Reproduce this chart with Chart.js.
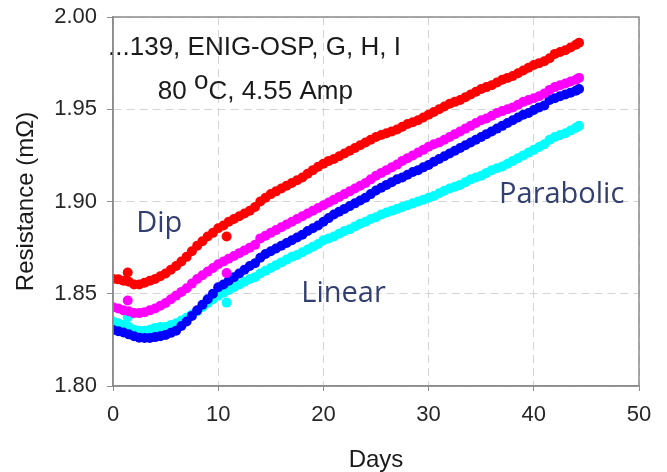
<!DOCTYPE html>
<html>
<head>
<meta charset="utf-8">
<script src="https://cdn.jsdelivr.net/npm/chart.js@4.4.1/dist/chart.umd.min.js"></script>
<style>
  html, body { margin: 0; padding: 0; background: #ffffff; }
  #wrap { width: 667px; height: 472px; position: relative; }
</style>
</head>
<body>
<div id="wrap"><canvas id="c"></canvas></div>
<script>
// Sampling days (common to the four samples)
const days = [
  0, 0.5, 1, 1.5, 2, 2.5, 3, 3.5, 4, 4.5, 5, 5.5, 6, 6.5, 7, 7.5, 8, 8.5, 9, 9.5,
  10, 10.5, 11, 11.5, 12, 12.5, 13, 13.5, 14, 14.5, 15, 15.5, 16, 16.5, 17, 17.5, 18, 18.5, 19, 19.5,
  20, 20.5, 21, 21.5, 22, 22.5, 23, 23.5, 24, 24.5, 25, 25.5, 26, 26.5, 27, 27.5, 28, 28.5, 29, 29.5,
  30, 30.5, 31, 31.5, 32, 32.5, 33, 33.5, 34, 34.5, 35, 35.5, 36, 36.5, 37, 37.5, 38, 38.5, 39, 39.5,
  40, 40.5, 41, 41.5, 42, 42.5, 43, 43.5, 44, 44.3
];

// Resistance (mOhm) per sample
const redValues = [
  1.8580, 1.8578, 1.8570, 1.8565, 1.8550, 1.8550, 1.8560, 1.8570, 1.8580, 1.8595,
  1.8610, 1.8630, 1.8650, 1.8675, 1.8700, 1.8730, 1.8760, 1.8785, 1.8810, 1.8830,
  1.8855, 1.8870, 1.8890, 1.8905, 1.8920, 1.8935, 1.8950, 1.8970, 1.9000, 1.9020,
  1.9040, 1.9055, 1.9070, 1.9085, 1.9100, 1.9115, 1.9130, 1.9150, 1.9170, 1.9188,
  1.9205, 1.9220, 1.9230, 1.9245, 1.9260, 1.9275, 1.9290, 1.9305, 1.9320, 1.9335,
  1.9350, 1.9360, 1.9370, 1.9380, 1.9390, 1.9405, 1.9420, 1.9430, 1.9440, 1.9455,
  1.9470, 1.9485, 1.9500, 1.9515, 1.9530, 1.9540, 1.9550, 1.9565, 1.9580, 1.9595,
  1.9610, 1.9620, 1.9630, 1.9645, 1.9660, 1.9670, 1.9680, 1.9695, 1.9710, 1.9725,
  1.9740, 1.9750, 1.9760, 1.9776, 1.9800, 1.9810, 1.9820, 1.9835, 1.9850, 1.9860
];
const magentaValues = [
  1.8427, 1.8420, 1.8410, 1.8405, 1.8395, 1.8395, 1.8400, 1.8410, 1.8420, 1.8435,
  1.8450, 1.8470, 1.8490, 1.8510, 1.8530, 1.8555, 1.8580, 1.8600, 1.8620, 1.8640,
  1.8660, 1.8675, 1.8690, 1.8705, 1.8720, 1.8735, 1.8750, 1.8765, 1.8800, 1.8815,
  1.8830, 1.8845, 1.8860, 1.8875, 1.8890, 1.8905, 1.8920, 1.8935, 1.8950, 1.8965,
  1.8980, 1.8995, 1.9010, 1.9025, 1.9040, 1.9055, 1.9070, 1.9085, 1.9100, 1.9120,
  1.9140, 1.9155, 1.9170, 1.9185, 1.9200, 1.9220, 1.9235, 1.9250, 1.9265, 1.9280,
  1.9297, 1.9310, 1.9320, 1.9335, 1.9350, 1.9365, 1.9380, 1.9395, 1.9410, 1.9425,
  1.9440, 1.9450, 1.9465, 1.9480, 1.9490, 1.9500, 1.9510, 1.9525, 1.9540, 1.9550,
  1.9560, 1.9570, 1.9585, 1.9605, 1.9620, 1.9630, 1.9640, 1.9650, 1.9660, 1.9670
];
const blueValues = [
  1.8304, 1.8297, 1.8290, 1.8280, 1.8270, 1.8262, 1.8260, 1.8260, 1.8265, 1.8270,
  1.8277, 1.8288, 1.8300, 1.8325, 1.8350, 1.8380, 1.8410, 1.8440, 1.8470, 1.8500,
  1.8535, 1.8550, 1.8570, 1.8590, 1.8610, 1.8630, 1.8650, 1.8665, 1.8695, 1.8715,
  1.8730, 1.8745, 1.8760, 1.8775, 1.8790, 1.8805, 1.8820, 1.8840, 1.8855, 1.8870,
  1.8890, 1.8910, 1.8930, 1.8945, 1.8960, 1.8975, 1.8990, 1.9005, 1.9020, 1.9040,
  1.9060, 1.9075, 1.9090, 1.9105, 1.9120, 1.9130, 1.9145, 1.9160, 1.9170, 1.9185,
  1.9198, 1.9215, 1.9230, 1.9245, 1.9260, 1.9275, 1.9290, 1.9305, 1.9320, 1.9335,
  1.9350, 1.9365, 1.9380, 1.9395, 1.9410, 1.9425, 1.9440, 1.9455, 1.9470, 1.9480,
  1.9496, 1.9510, 1.9520, 1.9550, 1.9560, 1.9570, 1.9580, 1.9590, 1.9600, 1.9610
];
const cyanValues = [
  1.8350, 1.8340, 1.8330, 1.8320, 1.8305, 1.8300, 1.8300, 1.8305, 1.8315, 1.8320,
  1.8320, 1.8330, 1.8340, 1.8355, 1.8370, 1.8388, 1.8405, 1.8428, 1.8450, 1.8470,
  1.8490, 1.8505, 1.8520, 1.8535, 1.8550, 1.8565, 1.8580, 1.8590, 1.8610, 1.8625,
  1.8640, 1.8655, 1.8670, 1.8685, 1.8700, 1.8710, 1.8725, 1.8740, 1.8755, 1.8770,
  1.8790, 1.8800, 1.8810, 1.8825, 1.8840, 1.8850, 1.8865, 1.8880, 1.8890, 1.8905,
  1.8915, 1.8930, 1.8940, 1.8950, 1.8960, 1.8970, 1.8980, 1.8990, 1.9000, 1.9010,
  1.9020, 1.9030, 1.9045, 1.9058, 1.9070, 1.9080, 1.9090, 1.9105, 1.9120, 1.9130,
  1.9140, 1.9155, 1.9170, 1.9180, 1.9190, 1.9205, 1.9220, 1.9235, 1.9250, 1.9265,
  1.9280, 1.9295, 1.9310, 1.9335, 1.9350, 1.9360, 1.9370, 1.9385, 1.9400, 1.9410
];

// Isolated readings that sit off the main trend
const spikeDays = [1.4, 10.8];
const redSpikes = [1.8615, 1.8810];
const magentaSpikes = [1.8463, 1.8612];
const cyanSpikes = [1.8373, 1.8452];

// Axis ticks
const xTicks = [0, 10, 20, 30, 40, 50];
const yTicks = [1.80, 1.85, 1.90, 1.95, 2.00];

function points(xs, ys, extraX, extraY) {
  const out = xs.map((d, i) => ({ x: d, y: ys[i] }));
  if (extraX) extraX.forEach((d, i) => out.push({ x: d, y: extraY[i] }));
  return out;
}

const AXIS_FONT = "'Liberation Sans', Arial, sans-serif";
const GRID = '#d4d4d4';
const FRAME = '#8c8c8c';

// Text notes placed in data coordinates, plus the plot frame
const notes = {
  id: 'notes',
  afterDatasetsDraw(chart) {
    const { ctx, scales: { x, y } } = chart;
    ctx.save();
    ctx.textBaseline = 'alphabetic';
    ctx.textAlign = 'left';

    ctx.fillStyle = '#1a1a1a';
    ctx.font = "26px " + AXIS_FONT;
    ctx.fillText('...139, ENIG-OSP, G, H, I', x.getPixelForValue(-0.47), y.getPixelForValue(1.9794));

    let px = x.getPixelForValue(4.26);
    const base = y.getPixelForValue(1.9556);
    ctx.fillText('80 ', px, base);
    px += ctx.measureText('80 ').width;
    ctx.fillText('o', px, base - 10);
    px += ctx.measureText('o').width;
    ctx.fillText('C, 4.55 Amp', px, base);

    ctx.fillStyle = '#333f6e';
    ctx.font = "29px 'Open Sans', sans-serif";
    ctx.fillText('Dip', x.getPixelForValue(2.2), y.getPixelForValue(1.8835));
    ctx.fillText('Linear', x.getPixelForValue(17.9), y.getPixelForValue(1.8456));
    ctx.fillText('Parabolic', x.getPixelForValue(36.7), y.getPixelForValue(1.8992));

    const a = chart.chartArea;
    ctx.strokeStyle = FRAME;
    ctx.lineWidth = 1.5;
    ctx.strokeRect(a.left, a.top, a.right - a.left, a.bottom - a.top);
    ctx.restore();
  }
};

function ds(data, color) {
  return {
    data,
    backgroundColor: color,
    borderColor: color,
    pointRadius: 5,
    pointBorderWidth: 0,
    pointHoverRadius: 5,
    showLine: false
  };
}

new Chart(document.getElementById('c'), {
  type: 'scatter',
  data: {
    datasets: [
      ds(points(days, redValues, spikeDays, redSpikes), '#ff0000'),
      ds(points(days, magentaValues, spikeDays, magentaSpikes), '#ff00ff'),
      ds(points(days, blueValues), '#0000ff'),
      ds(points(days, cyanValues, spikeDays, cyanSpikes), '#00ffff')
    ]
  },
  options: {
    responsive: true,
    maintainAspectRatio: false,
    animation: false,
    events: [],
    layout: { padding: { top: 17, right: 28, bottom: 0, left: 0 } },
    plugins: { legend: { display: false }, tooltip: { enabled: false } },
    scales: {
      x: {
        type: 'linear',
        min: 0, max: 50,
        afterBuildTicks(s) { s.ticks = xTicks.map(v => ({ value: v })); },
        afterFit(s) { s.height = 86; },
        ticks: {
          padding: 11,
          color: '#262626',
          font: { family: AXIS_FONT, size: 22 }
        },
        grid: { color: GRID, lineWidth: 1, tickLength: 5, tickColor: FRAME, tickWidth: 1 },
        border: { display: true, color: FRAME, width: 1.5, dash: [8, 5] },
        title: {
          display: true,
          text: 'Days',
          color: '#1a1a1a',
          font: { family: AXIS_FONT, size: 24, lineHeight: 1 },
          padding: { top: 0, bottom: 0 }
        }
      },
      y: {
        type: 'linear',
        min: 1.80, max: 2.00,
        afterBuildTicks(s) { s.ticks = yTicks.map(v => ({ value: v })); },
        afterFit(s) { s.width = 113; s.paddingTop = 0; s.paddingBottom = 0; },
        ticks: {
          padding: 10,
          color: '#262626',
          font: { family: AXIS_FONT, size: 22 },
          callback: v => Number(v).toFixed(2)
        },
        grid: { color: GRID, lineWidth: 1, tickLength: 6, tickColor: FRAME, tickWidth: 1 },
        border: { display: true, color: FRAME, width: 1.5, dash: [8, 5] },
        title: {
          display: true,
          text: 'Resistance (mΩ)',
          color: '#1a1a1a',
          font: { family: AXIS_FONT, size: 24, lineHeight: 1 },
          padding: { top: 14, bottom: 0 }
        }
      }
    }
  },
  plugins: [notes]
});
</script>
</body>
</html>
